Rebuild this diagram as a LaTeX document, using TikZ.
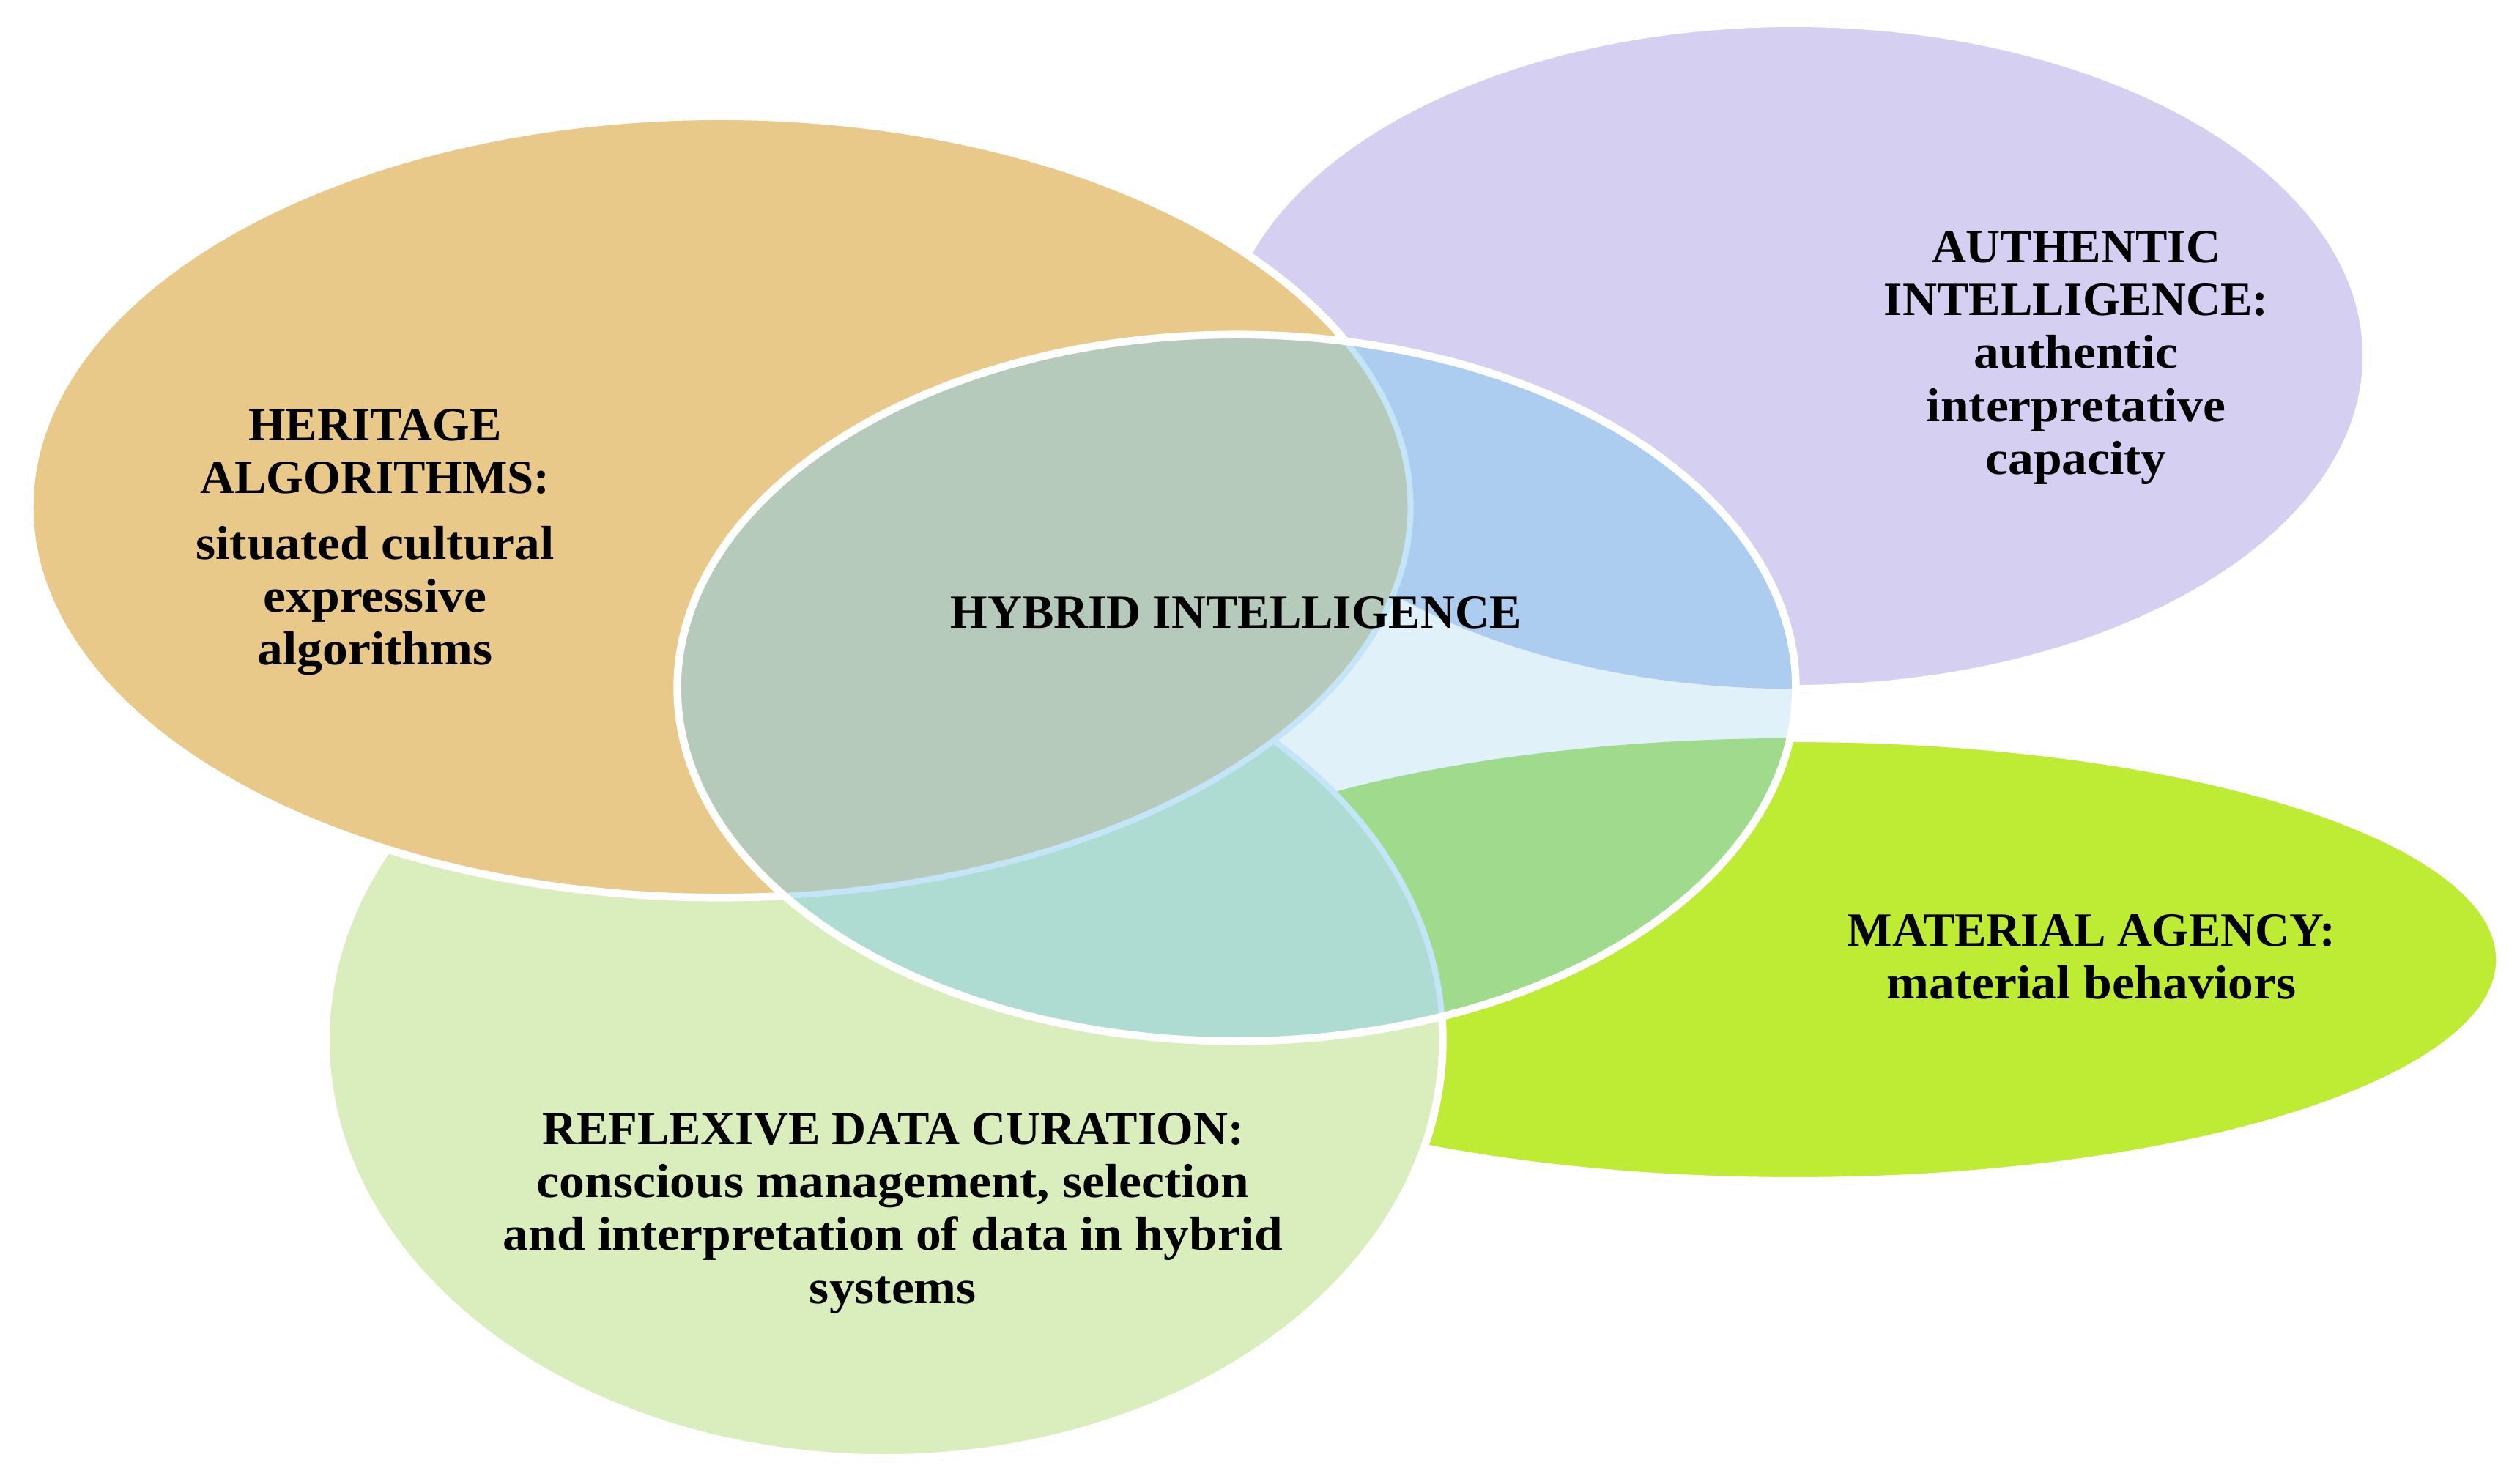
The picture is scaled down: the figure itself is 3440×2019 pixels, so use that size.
\documentclass[tikz,border=0pt]{standalone}
\usepackage{fontspec}
\setmainfont{Liberation Serif}
\newfontfamily\lcfont{Liberation Serif}[FakeStretch=1.07]
\definecolor{herit}{HTML}{E8C98A}
\definecolor{authc}{HTML}{D5D0F2}
\definecolor{matc}{HTML}{BEEB33}
\definecolor{refc}{HTML}{DAEDBC}
\definecolor{hyb}{HTML}{E0F1FA}
\definecolor{hybherit}{HTML}{B5CABA}
\definecolor{hybauth}{HTML}{ACCDF0}
\definecolor{hybmat}{HTML}{A0DA8C}
\definecolor{hybref}{HTML}{AEDCD3}
\definecolor{hybline}{HTML}{C4E5F8}
\tikzset{
  lbl/.style={inner sep=0pt, anchor=north, align=center, text=black,
    font=\fontsize{18.5}{20.5}\selectfont\bfseries},
  rim/.style={draw=white, line width=3pt},
  halo/.style={draw=black!18, line width=0.6pt},
  innerrim/.style={draw=hybline, line width=2.3pt}
}
\begin{document}
\begin{tikzpicture}[x=0.01cm,y=-0.01cm]
\useasboundingbox (0,0) rectangle (3440,2019);
\fill[white] (0,0) rectangle (3440,2019);
% base ellipses
\def\Auth{(2448,486) ellipse [x radius=7.82cm, y radius=4.54cm]}
\def\Mat{(2450,1310) ellipse [x radius=9.62cm, y radius=3.02cm]}
\def\Ref{(1207,1420) ellipse [x radius=7.62cm, y radius=5.70cm]}
\def\Her{(983,692) ellipse [x radius=9.42cm, y radius=5.33cm]}
\def\Hyb{(1688,939) ellipse [x radius=7.63cm, y radius=4.82cm]}
\path[halo] (2448,486) ellipse [x radius=7.86cm, y radius=4.58cm];
\path[fill=authc,rim] \Auth;
\path[halo] (2450,1310) ellipse [x radius=9.66cm, y radius=3.06cm];
\path[fill=matc,rim] \Mat;
\path[halo] (1207,1420) ellipse [x radius=7.66cm, y radius=5.74cm];
\path[fill=refc,rim] \Ref;
\path[halo] (983,692) ellipse [x radius=9.46cm, y radius=5.37cm];
\path[fill=herit,rim] \Her;
% hybrid ellipse and its overlaps
\begin{scope}
  \clip \Hyb;
  \fill[hyb] \Hyb;
  \fill[hybauth] \Auth;
  \fill[hybmat] \Mat;
  \path[fill=hybref,innerrim] \Ref;
  \path[fill=hybherit,innerrim] \Her;
\end{scope}
\path[rim] \Hyb;
% labels
\node[lbl] (her) at (512,558) {HERITAGE\\ALGORITHMS:\\[5pt]{\lcfont situated cultural}\\{\lcfont expressive}\\{\lcfont algorithms}};
\node[lbl] (hyb) at (1687,814) {HYBRID INTELLIGENCE};
\node[lbl] (aut) at (2834,315) {AUTHENTIC\\INTELLIGENCE:\\{\lcfont authentic}\\{\lcfont interpretative}\\{\lcfont capacity}};
\node[lbl] (mat) at (2855,1248) {MATERIAL AGENCY:\\{\lcfont material behaviors}};
\node[lbl] (ref) at (1219,1519) {REFLEXIVE DATA CURATION:\\{\lcfont conscious management, selection}\\{\lcfont and interpretation of data in hybrid}\\{\lcfont systems}};
\end{tikzpicture}
\end{document}
